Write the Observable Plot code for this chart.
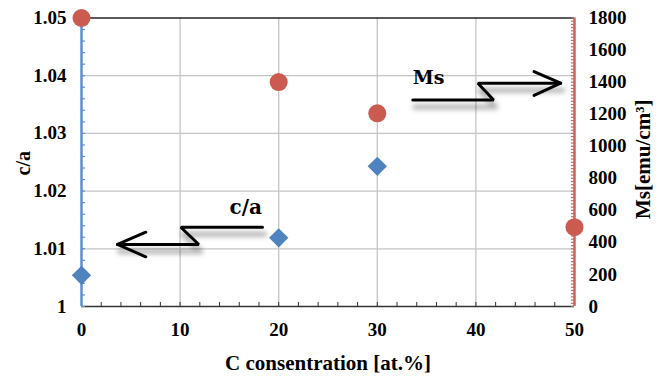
<!DOCTYPE html>
<html>
<head>
<meta charset="utf-8">
<script src="https://cdn.jsdelivr.net/npm/d3@7"></script>
<script src="https://cdn.jsdelivr.net/npm/@observablehq/plot@0.6"></script>
<style>
  html, body { margin: 0; padding: 0; background: #fff; }
</style>
</head>
<body>
<div id="chart"></div>
<script>
// ---- data ----
const caConc = [0, 20, 30];
const caValues = [1.0054, 1.0119, 1.0243];
const msConc = [0, 20, 30, 50];
const msValues = [1800, 1400, 1205, 495];

const xTicks = [0, 10, 20, 30, 40, 50];
const caTicks = [1, 1.01, 1.02, 1.03, 1.04, 1.05];
const caTickLabels = ["1", "1.01", "1.02", "1.03", "1.04", "1.05"];
const msTicks = [0, 200, 400, 600, 800, 1000, 1200, 1400, 1600, 1800];

const xTitle = "C consentration [at.%]";
const caTitle = "c/a";
const msTitle = "Ms[emu/cm³]";

// annotation arrows, in data units (x: at.%, y: c/a)
const msArrowText = "Ms";
const msArrowTextPos = [[33.6, 1.0383]];
const msArrowLine = [[33.6, 1.0358], [41.8, 1.0358], [40.2, 1.0387], [48.6, 1.0387]];
const msArrowHead = [[45.9, 1.0407], [48.6, 1.0387], [45.9, 1.0366]];
const caArrowText = "c/a";
const caArrowTextPos = [[18.3, 1.0159]];
const caArrowLine = [[18.36, 1.01374], [10.07, 1.01374], [11.9, 1.01075], [3.65, 1.01075]];
const caArrowHead = [[6.52, 1.01288], [3.65, 1.01075], [6.52, 1.00862]];

// ---- derived ----
const caMin = 1, caMax = 1.05, msMax = 1800;
const msToY = v => caMin + (v / msMax) * (caMax - caMin);
const caPoints = caConc.map((x, i) => ({x, y: caValues[i]}));
const msPoints = msConc.map((x, i) => ({x, y: msToY(msValues[i])}));
const leftMinor = d3.range(0, 26).map(i => caMin + i * 0.002);
const rightMinor = d3.range(0, 91).map(i => msToY(i * 20));
const bottomMinor = d3.range(0, 26).map(i => i * 2);

const blue = "#5B8FD0", red = "#D0625B";
const serif = "Liberation Serif, Times New Roman, serif";
const annFont = "DejaVu Serif, serif";
const txt = {fontFamily: serif, fontWeight: "bold"};

const shadowLine = (pts) => Plot.line(pts, {x: d => d[0], y: d => d[1], stroke: "#000", strokeOpacity: 0.3, strokeWidth: 5, dy: 7, dx: 2});

const chart = Plot.plot({
  width: 661,
  height: 376,
  marginLeft: 81,
  marginRight: 87,
  marginTop: 17.5,
  marginBottom: 70,
  style: {background: "#fff", color: "#000", overflow: "visible"},
  x: {domain: [0, 50], label: null},
  y: {domain: [caMin, caMax], label: null},
  marks: [
    Plot.gridX([10, 20, 30, 40], {stroke: "#c4c4c4", strokeOpacity: 1, strokeWidth: 1.3}),
    Plot.gridY([1.01, 1.02, 1.03, 1.04], {stroke: "#c4c4c4", strokeOpacity: 1, strokeWidth: 1.3}),
    Plot.ruleY([caMax], {x1: 0, x2: 50, stroke: "#222", strokeWidth: 1.3}),
    Plot.ruleY([caMin], {x1: 0, x2: 50, stroke: "#333", strokeWidth: 1.5}),
    Plot.ruleX(bottomMinor, {x: d => d, y1: caMin, y2: caMin + 0.0007, stroke: "#333", strokeWidth: 1}),
    Plot.ruleX([0], {stroke: blue, strokeWidth: 2.5}),
    Plot.ruleY(leftMinor, {y: d => d, x1: 0, x2: 0.4, stroke: blue, strokeWidth: 1.2}),
    Plot.ruleX([50], {stroke: red, strokeWidth: 2.5}),
    Plot.ruleY(rightMinor, {y: d => d, x1: 49.7, x2: 50, stroke: red, strokeWidth: 1.2}),
    // axes labels
    Plot.axisX(xTicks, {anchor: "bottom", tickSize: 0, tickPadding: 16, fontSize: 19, ...txt, label: null}),
    Plot.axisY(caTicks, {anchor: "left", tickSize: 0, tickPadding: 15, fontSize: 19, ...txt, tickFormat: (d, i) => caTickLabels[i], label: null}),
    Plot.axisY(msTicks.map(msToY), {anchor: "right", tickSize: 0, tickPadding: 14, fontSize: 19, ...txt, tickFormat: (d, i) => String(msTicks[i]), label: null}),
    Plot.text([xTitle], {frameAnchor: "bottom", textAnchor: "middle", lineAnchor: "bottom", dy: 63, fontSize: 21, ...txt, text: d => d}),
    Plot.text([caTitle], {frameAnchor: "left", textAnchor: "middle", lineAnchor: "middle", rotate: -90, dx: -58, dy: 1, fontSize: 20, ...txt, text: d => d}),
    Plot.text([msTitle], {frameAnchor: "right", textAnchor: "middle", lineAnchor: "middle", rotate: -90, dx: 69, dy: -3, fontSize: 21, ...txt, text: d => d}),
    // annotation arrows
    shadowLine(msArrowLine),
    shadowLine(caArrowLine),
    Plot.line(msArrowLine, {x: d => d[0], y: d => d[1], stroke: "#000", strokeWidth: 3, strokeLinejoin: "miter"}),
    Plot.line(msArrowHead, {x: d => d[0], y: d => d[1], stroke: "#000", strokeWidth: 3}),
    Plot.line(caArrowLine, {x: d => d[0], y: d => d[1], stroke: "#000", strokeWidth: 3, strokeLinejoin: "miter"}),
    Plot.line(caArrowHead, {x: d => d[0], y: d => d[1], stroke: "#000", strokeWidth: 3}),
    Plot.text(msArrowTextPos, {x: d => d[0], y: d => d[1], text: () => msArrowText, textAnchor: "start", lineAnchor: "bottom", fontFamily: annFont, fontSize: 19, fontWeight: "bold", dy: -2}),
    Plot.text(caArrowTextPos, {x: d => d[0], y: d => d[1], text: () => caArrowText, textAnchor: "end", lineAnchor: "bottom", fontFamily: annFont, fontSize: 20, fontWeight: "bold", dy: -1}),
    // data
    Plot.dot(msPoints, {x: "x", y: "y", r: 9, fill: "#CB5A50", stroke: "none"}),
    Plot.dot(caPoints, {x: "x", y: "y", r: 8.7, symbol: "diamond2", fill: "#4F83C0", stroke: "none"})
  ]
});

const svg = d3.select(chart);
// make the font family / size / weight of each text explicit as inline style
const inherited = (node, attr) => {
  let el = node;
  while (el && el.getAttribute) {
    const v = el.getAttribute(attr);
    if (v) return v;
    if (el === chart) break;
    el = el.parentNode;
  }
  return null;
};
svg.selectAll("text").each(function() {
  const fam = inherited(this, "font-family");
  const size = inherited(this, "font-size");
  const weight = inherited(this, "font-weight");
  if (fam) this.style.fontFamily = fam;
  if (size) this.style.fontSize = /^\d+(\.\d+)?$/.test(size) ? size + "px" : size;
  if (weight) this.style.fontWeight = weight;
});
// soft blur for the arrow shadows
const defs = svg.insert("defs", ":first-child");
defs.append("filter").attr("id", "soft-shadow")
  .attr("filterUnits", "userSpaceOnUse").attr("x", 0).attr("y", 0).attr("width", 661).attr("height", 376)
  .append("feGaussianBlur").attr("stdDeviation", 2.5);
svg.selectAll("[stroke-opacity='0.3']").attr("filter", "url(#soft-shadow)");
document.getElementById("chart").appendChild(chart);
</script>
</body>
</html>
